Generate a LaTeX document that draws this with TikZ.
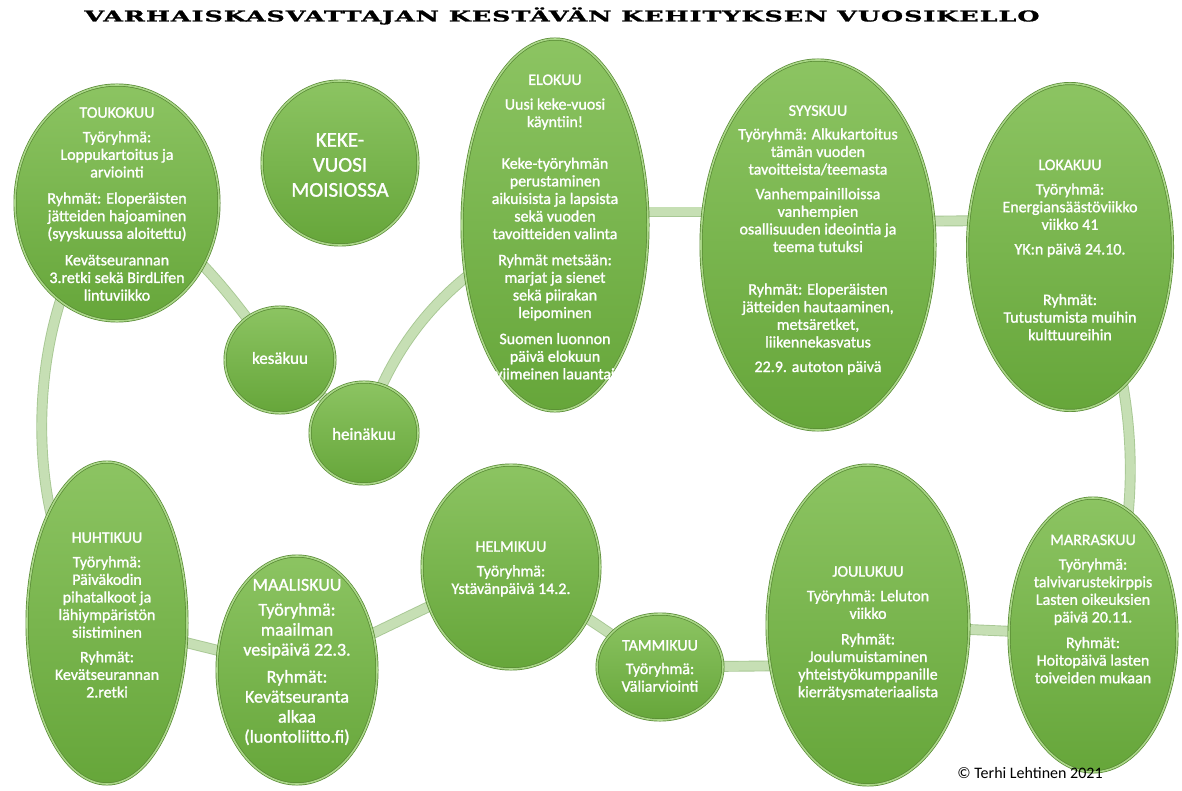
\documentclass[tikz,border=0pt]{standalone}
\usepackage{graphicx}
\usepackage{fontspec}
\setmainfont{Carlito}[FakeBold=1.3]
\newfontfamily\titlefont[LetterSpace=4,FakeBold=1.2]{DejaVu Serif}
\newfontfamily\plainfont{Carlito}
\usetikzlibrary{shapes.geometric}
\definecolor{gtop}{RGB}{140,196,98}
\definecolor{gbot}{RGB}{102,166,58}
\definecolor{gedge}{RGB}{86,136,50}
\definecolor{grim}{RGB}{170,214,136}
\definecolor{ringc}{RGB}{198,223,180}
\definecolor{ringe}{RGB}{168,200,148}
\pgfdeclarelayer{background}
\pgfsetlayers{background,main}
\begin{document}
\begin{tikzpicture}[x=1pt,y=-1pt,
  blob/.style={ellipse, inner sep=0pt, top color=gtop, bottom color=gbot,
    draw=gedge, line width=0.7pt, double=grim, double distance=1.6pt},
  txt/.style={text=white, align=center, inner sep=0pt, font=\fontsize{16}{17.6}\selectfont},
  bigtxt/.style={txt, font=\fontsize{18}{20}\selectfont},
  ringline/.style={draw=ringe, line width=0.9pt, double=ringc, double distance=9pt}]
\useasboundingbox (0,0) rectangle (1182,791);

% title
\node[inner sep=0pt, font=\titlefont\bfseries] (title) at (562,16)
  {\resizebox{955pt}{14pt}{VARHAISKASVATTAJAN KESTÄVÄN KEHITYKSEN VUOSIKELLO}};

% ellipses
\node[blob, minimum width=204pt, minimum height=236pt] (touko) at (117,203) {};
\node[blob, minimum width=156pt, minimum height=164pt] (keke) at (340,163) {};
\node[blob, minimum width=110pt, minimum height=106pt] (kesa) at (280,360) {};
\node[blob, minimum width=108pt, minimum height=102pt] (hein) at (364,433) {};
\node[blob, minimum width=186pt, minimum height=372pt] (elo) at (555,225) {};
\node[blob, minimum width=234pt, minimum height=370pt] (syys) at (818,245) {};
\node[blob, minimum width=205pt, minimum height=327pt] (loka) at (1070,247) {};
\node[blob, minimum width=160pt, minimum height=322pt] (huht) at (107,623) {};
\node[blob, minimum width=160pt, minimum height=228pt] (maal) at (297,670) {};
\node[blob, minimum width=178pt, minimum height=204pt] (helm) at (511,567) {};
\node[blob, minimum width=126pt, minimum height=106pt] (tamm) at (660,667) {};
\node[blob, minimum width=202pt, minimum height=320pt] (joul) at (868,625) {};
\node[blob, minimum width=168pt, minimum height=274pt] (marr) at (1093,635) {};

% ring
\begin{pgfonlayer}{background}
\fill[white] (0,0) rectangle (1182,791);
\draw[ringline] (touko.center) .. controls (200,235) and (260,342) .. (kesa.center);
\draw[ringline] (kesa.center) -- (hein.center);
\draw[ringline] (hein.center) .. controls (380,380) and (421,280) .. (elo.center);
\draw[ringline] ([yshift=13pt]elo.center) -- ([yshift=33pt]syys.center);
\draw[ringline] ([yshift=23pt]syys.center) -- ([yshift=27pt]loka.center);
\draw[ringline] (loka.center) .. controls (1146,360) and (1146,546) .. (marr.center);
\draw[ringline] (marr.center) -- (joul.center);
\draw[ringline] ([yshift=-40pt]joul.center) -- (tamm.center);
\draw[ringline] (tamm.center) -- (helm.center);
\draw[ringline] (helm.center) -- (maal.center);
\draw[ringline] (maal.center) -- (huht.center);
\draw[ringline] (huht.center) .. controls (15,540) and (22,292) .. (touko.center);
\end{pgfonlayer}

% texts
\node[txt] (toukoT) at (117,204) {TOUKOKUU\\[7pt]Työryhmä:\\Loppukartoitus ja\\arviointi\\[8.5pt]Ryhmät: Eloperäisten\\jätteiden hajoaminen\\(syyskuussa aloitettu)\\[9pt]Kevätseurannan\\3.retki sekä BirdLifen\\lintuviikko};
\node[txt, font=\fontsize{21}{25}\selectfont] (kekeT) at (340,165) {KEKE-\\VUOSI\\MOISIOSSA};
\node[txt, font=\fontsize{17}{20}\selectfont] (kesaT) at (280,358) {kesäkuu};
\node[txt, font=\fontsize{17}{20}\selectfont] (heinT) at (364,434) {heinäkuu};
\node[txt] (eloT) at (555,227) {ELOKUU\\[7pt]Uusi keke-vuosi\\käyntiin!\\[24pt]Keke-työryhmän\\perustaminen\\aikuisista ja lapsista\\sekä vuoden\\tavoitteiden valinta\\[8.5pt]Ryhmät metsään:\\marjat ja sienet\\sekä piirakan\\leipominen\\[8.5pt]Suomen luonnon\\päivä elokuun\\viimeinen lauantai};
\node[txt] (syysT) at (818,240) {SYYSKUU\\[6pt]Työryhmä: Alkukartoitus\\tämän vuoden\\tavoitteista/teemasta\\[7pt]Vanhempainilloissa\\vanhempien\\osallisuuden ideointia ja\\teema tutuksi\\[25pt]Ryhmät: Eloperäisten\\jätteiden hautaaminen,\\metsäretket,\\liikennekasvatus\\[7pt]22.9. autoton päivä};
\node[txt] (lokaT) at (1070,250) {LOKAKUU\\[7pt]Työryhmä:\\Energiansäästöviikko\\viikko 41\\[7pt]YK:n päivä 24.10.\\[33pt]Ryhmät:\\Tutustumista muihin\\kulttuureihin};
\node[txt] (huhtT) at (107,615) {HUHTIKUU\\[7pt]Työryhmä:\\Päiväkodin\\pihatalkoot ja\\lähiympäristön\\siistiminen\\[7pt]Ryhmät:\\Kevätseurannan\\2.retki};
\node[bigtxt] (maalT) at (297,662) {MAALISKUU\\[5pt]Työryhmä:\\maailman\\vesipäivä 22.3.\\[7pt]Ryhmät:\\Kevätseuranta\\alkaa\\(luontoliitto.fi)};
\node[txt] (helmT) at (511,569) {HELMIKUU\\[7pt]Työryhmä:\\Ystävänpäivä 14.2.};
\node[txt] (tammT) at (660,666) {TAMMIKUU\\[6pt]Työryhmä:\\Väliarviointi};
\node[txt] (joulT) at (868,633) {JOULUKUU\\[7pt]Työryhmä: Leluton\\viikko\\[8pt]Ryhmät:\\Joulumuistaminen\\yhteistyökumppanille\\kierrätysmateriaalista};
\node[txt] (marrT) at (1093,609) {MARRASKUU\\[7pt]Työryhmä:\\talvivarustekirppis\\Lasten oikeuksien\\päivä 20.11.\\[8pt]Ryhmät:\\Hoitopäivä lasten\\toiveiden mukaan};

\node[inner sep=0pt, font=\plainfont\fontsize{16}{19}\selectfont] (copy) at (1030,773) {© Terhi Lehtinen 2021};
\end{tikzpicture}
\end{document}
